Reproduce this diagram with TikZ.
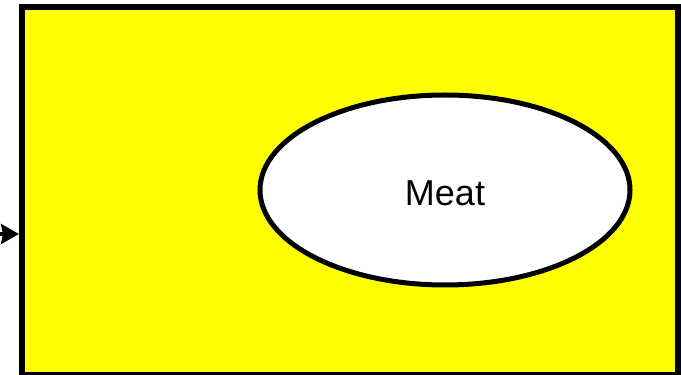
\documentclass[tikz,border=0pt]{standalone}
\usepackage{fontspec}
\setmainfont{Liberation Sans}
\usetikzlibrary{shapes.geometric,arrows.meta}
\definecolor{pureyellow}{RGB}{255,255,0}
\begin{document}
\begin{tikzpicture}[x=1pt,y=1pt,
  box/.style={draw=black,line width=6pt,fill=pureyellow,line join=miter},
  oval/.style={ellipse,draw=black,line width=5pt,fill=white,minimum width=370pt,minimum height=190pt,inner sep=0pt},
  conn/.style={-{Stealth[length=18pt,width=20pt,inset=2pt]},line width=3.5pt}]
\useasboundingbox (0,0) rectangle (681,375);
\node[box,minimum width=656pt,minimum height=368pt,inner sep=0pt] (frame) at (350,184) {};
\node[oval] (meat) at (445,185) {};
\node[font=\fontsize{36}{42}\selectfont] (lbl) at (445,182) {Meat};
\coordinate (src) at (-6,141);
\draw[conn] (src) -- (frame.west |- src);
\end{tikzpicture}
\end{document}
